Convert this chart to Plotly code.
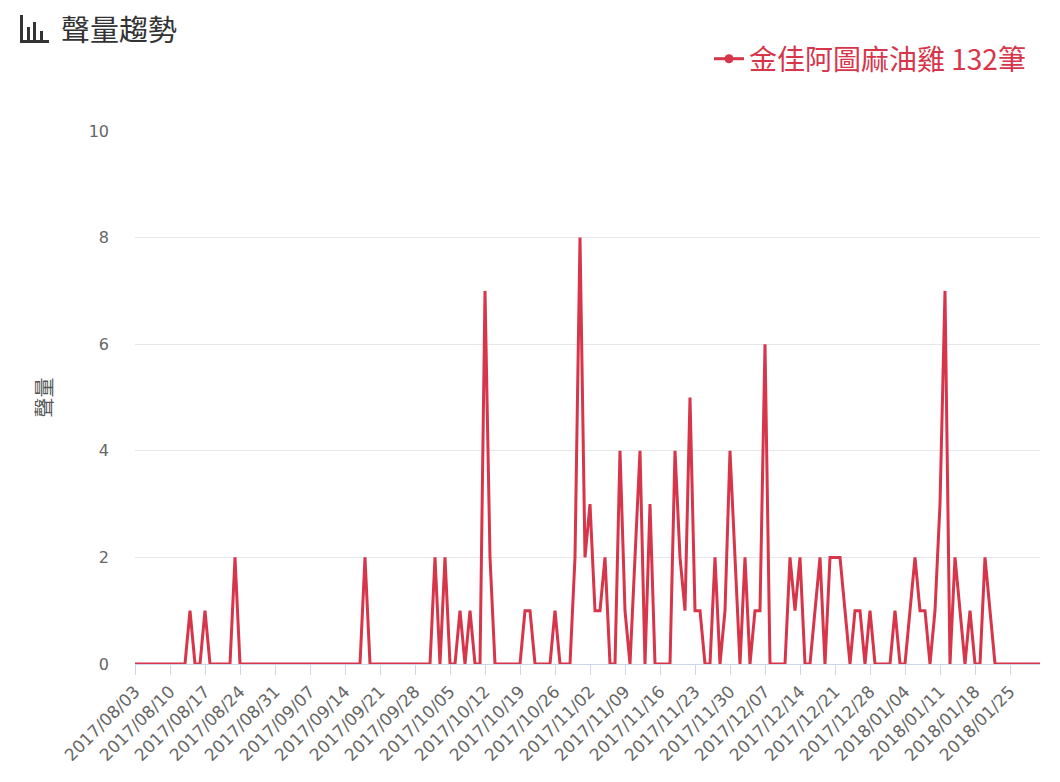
import pandas as pd
import plotly.graph_objects as go

# daily mention counts, 2017/08/03 .. 2018/01/31 (one row per week)
start_date = '2017-08-03'
end_date = '2018-01-31'
counts = [
    0, 0, 0, 0, 0, 0, 0,
    0, 0, 0, 0, 1, 0, 0,
    1, 0, 0, 0, 0, 0, 2,
    0, 0, 0, 0, 0, 0, 0,
    0, 0, 0, 0, 0, 0, 0,
    0, 0, 0, 0, 0, 0, 0,
    0, 0, 0, 0, 2, 0, 0,
    0, 0, 0, 0, 0, 0, 0,
    0, 0, 0, 0, 2, 0, 2,
    0, 0, 1, 0, 1, 0, 0,
    7, 2, 0, 0, 0, 0, 0,
    0, 1, 1, 0, 0, 0, 0,
    1, 0, 0, 0, 2, 8, 2,
    3, 1, 1, 2, 0, 0, 4,
    1, 0, 2, 4, 0, 3, 0,
    0, 0, 0, 4, 2, 1, 5,
    1, 1, 0, 0, 2, 0, 1,
    4, 2, 0, 2, 0, 1, 1,
    6, 0, 0, 0, 0, 2, 1,
    2, 0, 0, 1, 2, 0, 2,
    2, 2, 1, 0, 1, 1, 0,
    1, 0, 0, 0, 0, 1, 0,
    0, 1, 2, 1, 1, 0, 1,
    3, 7, 0, 2, 1, 0, 1,
    0, 0, 2, 1, 0, 0, 0,
    0, 0, 0, 0, 0, 0, 0,
]
dates = pd.date_range(start_date, end_date, freq='D')
series_name = '金佳阿圖麻油雞'
title_text = '聲量趨勢'
y_title = '聲量'
y_ticks = [0, 2, 4, 6, 8, 10]

RED = '#d7354a'
CJK = 'Noto Sans CJK TC'
LAT = 'DejaVu Sans, Noto Sans CJK TC'

# the page body adds an 8px margin, so the figure is drawn 8px smaller
OFF = 8
W, H = 1060 - 2 * OFF, 782 - 2 * OFF
PL, PR, PT, PB = 135, 1040, 131, 664   # plot box in page pixels

df = pd.DataFrame(dict(date=dates, count=counts))
total = int(df['count'].sum())

fig = go.Figure()
fig.add_trace(go.Scatter(x=df['date'], y=df['count'], mode='lines',
                         line=dict(color=RED, width=3), showlegend=False,
                         hovertemplate='%{x|%Y/%m/%d}: %{y}<extra></extra>'))
# legend-only trace so the key shows a line with a dot like the original
fig.add_trace(go.Scatter(x=[None], y=[None], mode='lines+markers',
                         line=dict(color=RED, width=3), marker=dict(size=9, color=RED),
                         name=f'{series_name} {total}筆'))


def px_x(p):
    return (p - PL) / (PR - PL)


def px_y(p):
    return (PB - p) / (PB - PT)


# little bar-chart icon next to the title
shapes = [
    dict(x0=20, x1=23, y0=43, y1=15),
    dict(x0=20, x1=49, y0=43, y1=40),
    dict(x0=27, x1=30, y0=40, y1=27),
    dict(x0=33, x1=36, y0=40, y1=22),
    dict(x0=40, x1=43, y0=40, y1=31),
]
for s in shapes:
    fig.add_shape(type='rect', xref='paper', yref='paper',
                  x0=px_x(s['x0']), x1=px_x(s['x1']), y0=px_y(s['y0']), y1=px_y(s['y1']),
                  fillcolor='#333333', line=dict(width=0))

fig.update_layout(
    width=W, height=H,
    margin=dict(l=PL - OFF, r=W + OFF - PR, t=PT - OFF, b=H + OFF - PB, autoexpand=False),
    paper_bgcolor='white', plot_bgcolor='white',
    font=dict(family=LAT, color='#666666'),
    title=dict(text=title_text, xref='container', yref='container',
               x=(61 - OFF) / W, xanchor='left', y=1 - (31 - OFF) / H, yanchor='middle',
               font=dict(family=CJK, size=29, color='#333333')),
    legend=dict(x=px_x(1031), xanchor='right', y=px_y(59), yanchor='middle',
                font=dict(family=CJK, size=28, color=RED),
                bgcolor='rgba(0,0,0,0)', itemwidth=30),
    hovermode='x',
)
fig.update_xaxes(
    type='date', range=[start_date, end_date],
    tick0=start_date, dtick=7 * 86400000, tickformat='%Y/%m/%d',
    tickangle=-45, tickfont=dict(size=17, color='#666666'),
    ticks='outside', ticklen=10, tickcolor='#ccd6eb', tickwidth=1,
    showline=True, linecolor='#ccd6eb', linewidth=1,
    showgrid=False, zeroline=False,
)
fig.update_yaxes(
    range=[0, 10], tickvals=y_ticks, ticks='', ticklabelstandoff=25,
    tickfont=dict(size=16, color='#666666'),
    showgrid=True, gridcolor='#e6e6e6', gridwidth=1, zeroline=False,
    title=dict(text=y_title, standoff=30, font=dict(family=CJK, size=20, color='#555555')),
)

fig.write_html("out.html")
